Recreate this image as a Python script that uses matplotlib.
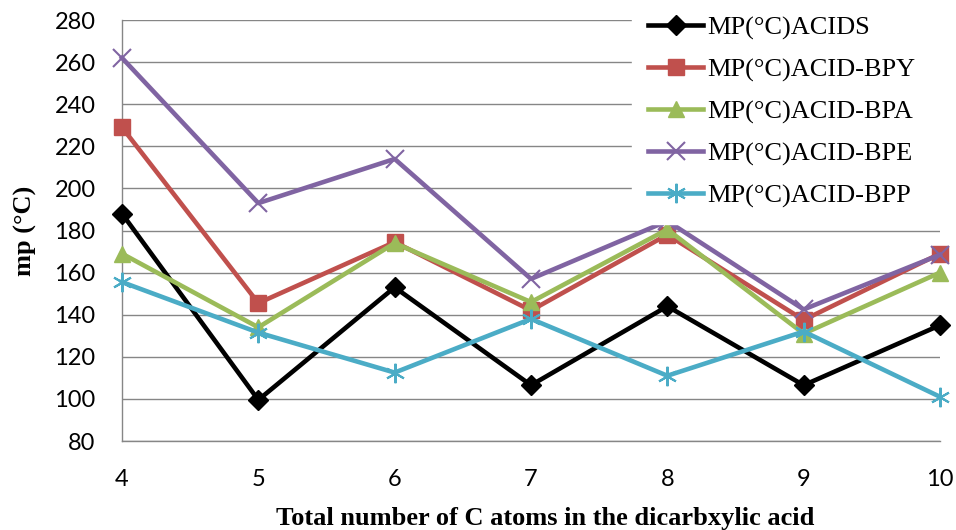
import matplotlib
matplotlib.use("Agg")
import matplotlib.pyplot as plt

carbons = [4, 5, 6, 7, 8, 9, 10]
acids = [188, 99.5, 153, 106.5, 144, 106.5, 135]
acid_bpy = [229, 145.5, 174.5, 142, 178, 137.5, 169]
acid_bpa = [169, 134, 174, 146, 180.5, 131, 160]
acid_bpe = [262, 193, 214, 157, 184.5, 142.5, 168.5]
acid_bpp = [155.5, 131.5, 112.5, 138, 111, 132, 101]
y_ticks = [80, 100, 120, 140, 160, 180, 200, 220, 240, 260, 280]

series = [
    ("MP(°C)ACIDS", acids, "#000000", "D", 10),
    ("MP(°C)ACID-BPY", acid_bpy, "#C0504D", "s", 12),
    ("MP(°C)ACID-BPA", acid_bpa, "#9BBB59", "^", 12),
    ("MP(°C)ACID-BPE", acid_bpe, "#8064A2", "x", 13),
    ("MP(°C)ACID-BPP", acid_bpp, "#4BACC6", (6, 2, 0), 14),
]

fig = plt.figure(figsize=(9.56, 5.30), dpi=100)
ax = fig.add_axes([122/956, 1-441/530, (940-122)/956, (441-20)/530])

for label, vals, color, marker, ms in series:
    ax.plot(carbons, vals, color=color, lw=3.3, marker=marker, markersize=ms,
            markeredgewidth=1.5 if marker in ("x", (6, 2, 0)) else 1,
            markeredgecolor=color, label=label, clip_on=False, zorder=3)

ax.set_xlim(4, 10)
ax.set_ylim(80, 280)
ax.set_yticks(y_ticks)
ax.set_xticks(carbons)
ax.grid(axis="y", color="#868686", lw=1)
ax.set_axisbelow(True)
for s in ("top", "right"):
    ax.spines[s].set_visible(False)
for s in ("left", "bottom"):
    ax.spines[s].set_color("#868686")
    ax.spines[s].set_linewidth(1)
ax.tick_params(length=0, labelsize=17)
ax.tick_params(axis="y", pad=19)
ax.tick_params(axis="x", pad=20)
for lab in ax.get_xticklabels() + ax.get_yticklabels():
    lab.set_family(["Lato", "DejaVu Sans"])

ax.set_ylabel("mp (°C)", family="Liberation Serif", fontweight="bold", fontsize=19)
ax.yaxis.set_label_coords((25-122)/818, 0.5)
ax.yaxis.label.set_va("center")
ax.set_xlabel("Total number of C atoms in the dicarbxylic acid", family="Liberation Serif",
              fontweight="bold", fontsize=19)
ax.xaxis.set_label_coords((545-122)/818, (441-518)/421)
ax.xaxis.label.set_va("center")

leg = fig.legend(loc="upper left", bbox_to_anchor=(632/956, 0.0, 324/956, 1.0),
                 mode="expand", frameon=True,
                 prop={"family": "Liberation Serif", "size": 19},
                 handlelength=2.1, handletextpad=0.15, labelspacing=0.69,
                 borderaxespad=0, borderpad=0.6)
leg.get_frame().set_facecolor("white")
leg.get_frame().set_edgecolor("white")
leg.get_frame().set_alpha(1)

fig.savefig("out.png", dpi=100)
